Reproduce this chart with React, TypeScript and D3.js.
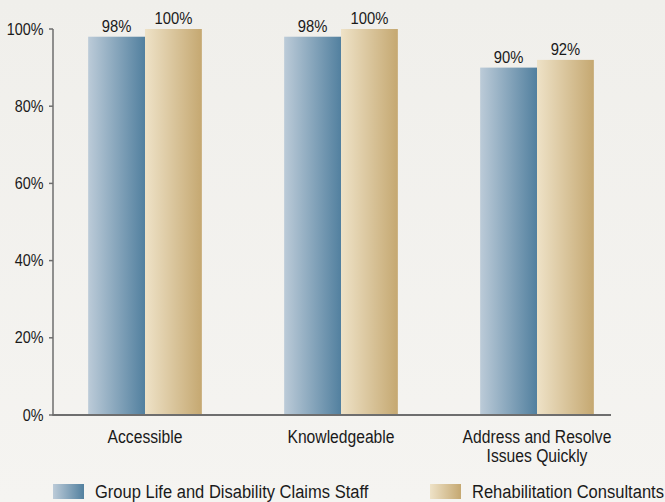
import React from "react";
import * as d3 from "d3";

const categories = ["Accessible", "Knowledgeable", "Address and Resolve\nIssues Quickly"];
const seriesNames = ["Group Life and Disability Claims Staff", "Rehabilitation Consultants"];
const claimsStaff = [98, 98, 90];
const rehabConsultants = [100, 100, 92];
const yTicks = [0, 20, 40, 60, 80, 100];

const W = 665;
const H = 502;
const FONT = "'Liberation Sans', Arial, Helvetica, sans-serif";
const SX = 0.87;

function CText(props: { x: number; y: number; size: number; anchor?: string; children: React.ReactNode }) {
  return (
    <text
      transform={`translate(${props.x},${props.y}) scale(${SX},1)`}
      textAnchor={props.anchor || "start"}
      fontSize={props.size}
      fill="#1a1a1a"
    >
      {props.children}
    </text>
  );
}

export default function App() {
  const y = d3.scaleLinear().domain([0, 100]).range([415, 29]);
  const x0 = d3.scaleBand<string>().domain(categories).range([47, 635]).paddingInner(0.42).paddingOuter(0.21);
  const x1 = d3.scaleBand<number>().domain([0, 1]).range([0, x0.bandwidth()]);
  const series = [claimsStaff, rehabConsultants];
  const grads = ["gBlue", "gTan"];

  return (
    <svg width={W} height={H} style={{ position: "absolute", left: 0, top: 0 }} fontFamily={FONT}>
      <defs>
        <linearGradient id="bg" x1="0" y1="0" x2="0" y2="1">
          <stop offset="0" stopColor="#f0efeb" />
          <stop offset="1" stopColor="#f5f4f1" />
        </linearGradient>
        <linearGradient id="gBlue" x1="0" y1="0" x2="1" y2="0">
          <stop offset="0" stopColor="#bccbd8" />
          <stop offset="1" stopColor="#52809f" />
        </linearGradient>
        <linearGradient id="gTan" x1="0" y1="0" x2="1" y2="0">
          <stop offset="0" stopColor="#eee2c7" />
          <stop offset="1" stopColor="#c5a871" />
        </linearGradient>
      </defs>
      <rect x={0} y={0} width={W} height={H} fill="url(#bg)" />
      {yTicks.map((t) => (
        <g key={t}>
          <line x1={49} x2={53} y1={y(t)} y2={y(t)} stroke="#6e6e6e" strokeWidth={1.5} />
          <CText x={43.5} y={y(t) + 5.5} size={16.5} anchor="end">
            {t}%
          </CText>
        </g>
      ))}
      {categories.map((c, ci) => (
        <g key={c}>
          {series.map((s, si) => {
            const bx = (x0(c) as number) + (x1(si) as number);
            const bw = x1.bandwidth();
            return (
              <g key={si}>
                <rect x={bx} y={y(s[ci])} width={bw} height={y(0) - y(s[ci])} fill={`url(#${grads[si]})`} />
                <CText x={bx + bw / 2} y={y(s[ci]) - 5} size={17} anchor="middle">
                  {s[ci]}%
                </CText>
              </g>
            );
          })}
          {c.split("\n").map((line, li) => (
            <CText key={li} x={(x0(c) as number) + x0.bandwidth() / 2} y={443 + li * 19} size={18} anchor="middle">
              {line}
            </CText>
          ))}
        </g>
      ))}
      <line x1={53} x2={53} y1={29} y2={415} stroke="#6e6e6e" strokeWidth={1.5} />
      <line x1={52.3} x2={611} y1={415} y2={415} stroke="#6e6e6e" strokeWidth={2} />
      {seriesNames.map((n, i) => {
        const lx = [53, 430][i];
        return (
          <g key={n}>
            <rect x={lx} y={484} width={31} height={15} fill={`url(#${grads[i]})`} />
            <CText x={lx + 42} y={497.5} size={19}>
              {n}
            </CText>
          </g>
        );
      })}
    </svg>
  );
}
